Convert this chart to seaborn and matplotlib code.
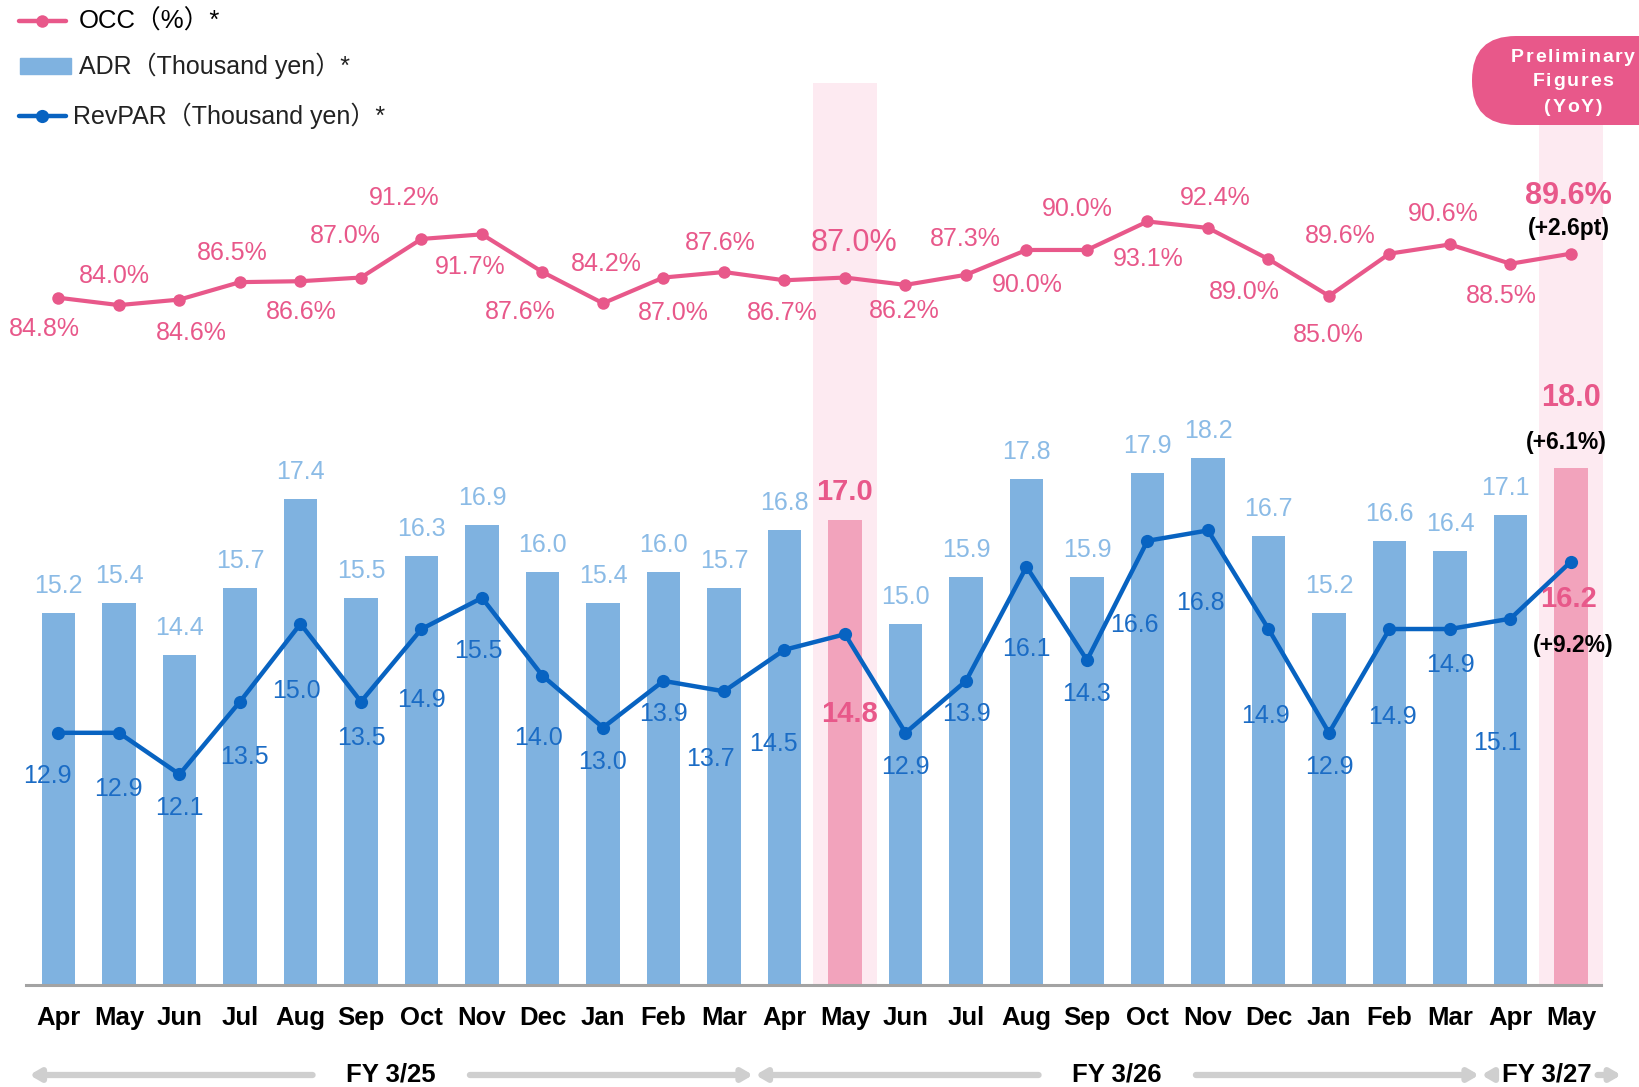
import numpy as np
import pandas as pd
import matplotlib
matplotlib.use("Agg")
import matplotlib.pyplot as plt
import matplotlib.transforms as mtransforms
from matplotlib.patches import FancyBboxPatch, Rectangle
from matplotlib.lines import Line2D
from matplotlib.font_manager import FontProperties
import seaborn as sns

# ================= DATA =================
months = ["Apr", "May", "Jun", "Jul", "Aug", "Sep", "Oct", "Nov", "Dec", "Jan", "Feb", "Mar",
          "Apr", "May", "Jun", "Jul", "Aug", "Sep", "Oct", "Nov", "Dec", "Jan", "Feb", "Mar",
          "Apr", "May"]
adr = [15.2, 15.4, 14.4, 15.7, 17.4, 15.5, 16.3, 16.9, 16.0, 15.4, 16.0, 15.7,
       16.8, 17.0, 15.0, 15.9, 17.8, 15.9, 17.9, 18.2, 16.7, 15.2, 16.6, 16.4,
       17.1, 18.0]
revpar = [12.9, 12.9, 12.1, 13.5, 15.0, 13.5, 14.9, 15.5, 14.0, 13.0, 13.9, 13.7,
          14.5, 14.8, 12.9, 13.9, 16.1, 14.3, 16.6, 16.8, 14.9, 12.9, 14.9, 14.9,
          15.1, 16.2]
occ = [84.8, 84.0, 84.6, 86.5, 86.6, 87.0, 91.2, 91.7, 87.6, 84.2, 87.0, 87.6,
       86.7, 87.0, 86.2, 87.3, 90.0, 90.0, 93.1, 92.4, 89.0, 85.0, 89.6, 90.6,
       88.5, 89.6]
fiscal_years = ["FY 3/25", "FY 3/26", "FY 3/27"]
fy_start = [0, 12, 24]
fy_end = [11, 23, 25]
highlight = [13, 25]
yoy_occ = "(+2.6pt)"
yoy_adr = "(+6.1%)"
yoy_revpar = "(+9.2%)"

df = pd.DataFrame({"idx": np.arange(len(months)), "adr": adr, "revpar": revpar, "occ": occ})
df["hl"] = df["idx"].isin(highlight).astype(int)

# ================= STYLE =================
PINK = "#e8588a"
BAR_BLUE = "#7fb2e0"
BAR_PINK = "#f2a3bc"
BAND = "#fdeaf1"
LINE_BLUE = "#0863c1"
ADR_TXT = "#8bbbe6"
REV_TXT = "#1b6cc5"
GRAY = "#a3a3a3"
ARROW_GRAY = "#cfcfcf"

sns.set_style("white")
SANS = ["Liberation Sans", "Noto Sans CJK JP", "DejaVu Sans"]
NARROW = ["Liberation Sans Narrow", "Liberation Sans", "DejaVu Sans"]
plt.rcParams["font.family"] = SANS
plt.rcParams["text.color"] = "black"
plt.rcParams["xtick.color"] = "black"

W, H = 1639, 1087
fig = plt.figure(figsize=(W / 100, H / 100), dpi=100)

# axes geometry in pixels
ax_left, ax_right, ax_bottom, ax_top = 26, 1601, 985, 80
ax = fig.add_axes([ax_left / W, 1 - ax_bottom / H, (ax_right - ax_left) / W, (ax_bottom - ax_top) / H])
ax.set_xlim(-0.537, 25.496)
ax.set_ylim(8.04, 25.48)

# highlight bands
ax.axvspan(12.47, 13.53, ymin=0, ymax=(ax_bottom - 83) / (ax_bottom - ax_top), color=BAND, zorder=0, lw=0)
ax.axvspan(24.47, 25.53, ymin=0, ymax=(ax_bottom - 125) / (ax_bottom - ax_top), color=BAND, zorder=0,
           lw=0, clip_on=False)

# ADR bars
sns.barplot(data=df, x="idx", y="adr", hue="hl", palette={0: BAR_BLUE, 1: BAR_PINK},
            native_scale=True, width=0.55, dodge=False, legend=False, ax=ax, saturation=1,
            linewidth=0, zorder=1)

# RevPAR line
sns.lineplot(data=df, x="idx", y="revpar", ax=ax, color=LINE_BLUE, lw=3.2, marker="o",
             markersize=9.5, markeredgewidth=0, zorder=3)

# OCC line on twin axis
ax2 = ax.twinx()
ax2.set_ylim(10.0, 108.5)
sns.lineplot(data=df, x="idx", y="occ", ax=ax2, color=PINK, lw=3.0, marker="o",
             markersize=9, markeredgewidth=0, zorder=3)
ax2.set_xlim(ax.get_xlim())

for a in (ax, ax2):
    a.set_xlabel("")
    a.set_ylabel("")
    a.set_yticks([])
    for s in a.spines.values():
        s.set_visible(False)
ax.spines["bottom"].set_visible(True)
ax.spines["bottom"].set_color(GRAY)
ax.spines["bottom"].set_linewidth(2.2)
ax.spines["bottom"].set_zorder(5)

ax.set_xticks(df["idx"])
ax.set_xticklabels(months, fontsize=18.5, fontweight="bold", family=NARROW, color="black")
ax.tick_params(axis="x", length=0, pad=15)
ax2.tick_params(axis="x", length=0, labelbottom=False)

# ---------- labels ----------
# OCC label offsets (pixels)
occ_off = [(-14, -31), (-5, 29), (12, -33), (-8, 29), (1, -31), (-16, 42), (-17, 41), (-12, -33),
           (-22, -40), (3, 39), (10, -35), (-4, 29), (-2, -33), (9, 35), (-1, -26), (-1, 36),
           (1, -35), (-10, 41), (1, -38), (7, 30), (-24, -33), (-1, -39), (-49, 18), (-7, 30),
           (-9, -32), (-3, 58)]
for i, v in enumerate(occ):
    dx, dy = occ_off[i]
    if i == 25:
        ax2.annotate(f"{v:.1f}%", (i, v), xytext=(dx, dy), textcoords="offset pixels",
                     ha="center", va="center", color=PINK, fontsize=22, fontweight="bold")
        ax2.annotate(yoy_occ, (i, v), xytext=(-2, 25), textcoords="offset pixels",
                     ha="center", va="center", color="black", fontsize=16.5, fontweight="bold")
    else:
        ax2.annotate(f"{v:.1f}%", (i, v), xytext=(dx, dy), textcoords="offset pixels",
                     ha="center", va="center", color=PINK, fontsize=22 if i == 13 else 18)

# ADR labels
for i, v in enumerate(adr):
    if i == 13:
        ax.annotate(f"{v:.1f}", (i, v), xytext=(0, 28), textcoords="offset pixels",
                    ha="center", va="center", color=PINK, fontsize=21, fontweight="bold")
    elif i == 25:
        ax.annotate(f"{v:.1f}", (i, v), xytext=(0, 70), textcoords="offset pixels",
                    ha="center", va="center", color=PINK, fontsize=22, fontweight="bold")
        ax.annotate(yoy_adr, (i, v), xytext=(-5, 26), textcoords="offset pixels",
                    ha="center", va="center", color="black", fontsize=16.5, fontweight="bold")
    else:
        ax.annotate(f"{v:.1f}", (i, v), xytext=(-5 if i == 24 else 0, 27), textcoords="offset pixels",
                    ha="center", va="center", color=ADR_TXT, fontsize=18)

# RevPAR label offsets (pixels)
rev_off = [(-11, -43), (-1, -56), (0, -34), (4, -55), (-4, -67), (0, -36), (0, -71), (-4, -53),
           (-4, -62), (0, -34), (0, -33), (-14, -68), (-11, -94), (5, -80), (0, -34), (0, -33),
           (0, -82), (0, -34), (-13, -84), (-8, -73), (-3, -87), (0, -34), (3, -88), (0, -36),
           (-13, -124), (-2, -37)]
for i, v in enumerate(revpar):
    dx, dy = rev_off[i]
    if i in highlight:
        ax.annotate(f"{v:.1f}", (i, v), xytext=(dx, dy), textcoords="offset pixels",
                    ha="center", va="center", color=PINK, fontsize=21, fontweight="bold", zorder=6)
    else:
        ax.annotate(f"{v:.1f}", (i, v), xytext=(dx, dy), textcoords="offset pixels",
                    ha="center", va="center", color=REV_TXT, fontsize=18, zorder=6)
ax.annotate(yoy_revpar, (25, revpar[25]), xytext=(2, -84), textcoords="offset pixels",
            ha="center", va="center", color="black", fontsize=16.5, fontweight="bold", zorder=6)

# ---------- fiscal year arrows ----------
trans = mtransforms.blended_transform_factory(ax.transData, ax.transAxes)
y_fy = -(1075 - ax_bottom) / (ax_bottom - ax_top)
gaps = [1.3, 1.3, 0.84]
for name, s, e, g in zip(fiscal_years, fy_start, fy_end, gaps):
    x0, x1 = s - 0.5, e + 0.5
    xc = (x0 + x1) / 2 if e != 25 else 24.6
    if e == 25:
        x1 = 25.85
    ax.text(xc, y_fy, name, transform=trans, ha="center", va="center", fontsize=18.5,
            fontweight="bold", family=NARROW)
    arrow = dict(arrowstyle="-|>,head_length=0.6,head_width=0.35", color=ARROW_GRAY, lw=4.5,
                 shrinkA=0, shrinkB=0)
    ax.annotate("", xy=(x0 + 0.02, y_fy), xytext=(xc - g, y_fy), xycoords=trans, textcoords=trans,
                arrowprops=arrow, annotation_clip=False)
    ax.annotate("", xy=(x1 - 0.02, y_fy), xytext=(xc + g, y_fy), xycoords=trans, textcoords=trans,
                arrowprops=arrow, annotation_clip=False)

# ---------- legend (drawn by hand) ----------
def fx(px):
    return px / W

def fy(py):
    return 1 - py / H

fig.add_artist(Line2D([fx(19), fx(42), fx(66)], [fy(21)] * 3, color=PINK, lw=3.2, marker="o",
                      markersize=9, markevery=[1], markeredgewidth=0))
fig.text(fx(79), fy(21), "OCC（%）*", fontsize=18.5, va="center", ha="left")
fig.add_artist(Rectangle((fx(20), fy(74)), fx(71) - fx(20), fy(58) - fy(74), color=BAR_BLUE,
                         transform=fig.transFigure))
fig.text(fx(79), fy(66), "ADR（Thousand yen）*", fontsize=18, va="center", ha="left", color="#222222")
fig.add_artist(Line2D([fx(19), fx(42), fx(66)], [fy(116)] * 3, color=LINE_BLUE, lw=3.2, marker="o",
                      markersize=9.5, markevery=[1], markeredgewidth=0))
fig.text(fx(73), fy(116), "RevPAR（Thousand yen）*", fontsize=18, va="center", ha="left",
         color="#222222")

# ---------- preliminary figures box ----------
box = FancyBboxPatch((14.72, (H - 125) / 100), 2.6, 0.89,
                     boxstyle="round,pad=0,rounding_size=0.44", transform=fig.dpi_scale_trans,
                     facecolor=PINK, edgecolor="none", clip_on=False)
fig.add_artist(box)

# letter-spaced white text
renderer = fig.canvas.get_renderer()
prop = FontProperties(family=SANS, size=14, weight="bold")
spacing = 1.8
for txt, py in zip(["Preliminary", "Figures", "(YoY)"], [57, 82, 107]):
    widths = [renderer.get_text_width_height_descent(c, prop, ismath=False)[0] for c in txt]
    total = sum(widths) + spacing * (len(txt) - 1)
    x = 1573 - total / 2
    for c, w in zip(txt, widths):
        fig.text(fx(x), fy(py), c, fontproperties=prop, color="white", ha="left", va="center")
        x += w + spacing

plt.savefig("out.png", dpi=100)
